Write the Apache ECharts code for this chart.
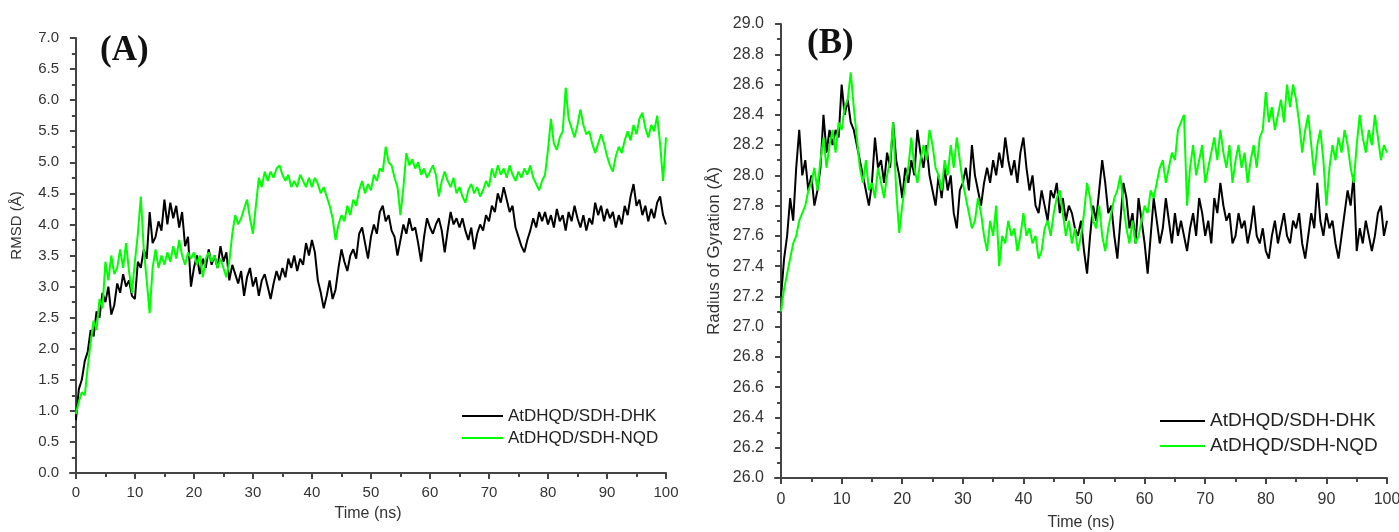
<!DOCTYPE html>
<html>
<head>
<meta charset="utf-8">
<script src="https://cdn.jsdelivr.net/npm/echarts@6/dist/echarts.min.js"></script>
<style>
  html, body { margin: 0; padding: 0; background: #fff; }
  #chart { width: 1399px; height: 532px; }
</style>
</head>
<body>
<div id="chart"></div>
<script>
// time axis: 0 .. 100 ns, sampled every 0.5 ns
const timeNs = Array.from({ length: 201 }, (_, i) => i * 0.5)

const xTicks = [0, 10, 20, 30, 40, 50, 60, 70, 80, 90, 100]
const xMinorTicks = [5, 15, 25, 35, 45, 55, 65, 75, 85, 95]

const seriesNames = ['AtDHQD/SDH-DHK', 'AtDHQD/SDH-NQD']

// (A) RMSD, Å
const rmsdDHK = [
  0.85, 1.35, 1.5, 1.8, 1.95, 2.3, 2.2, 2.6, 2.5, 2.9, 2.75, 3.0, 2.55, 2.7, 3.05, 2.9, 3.2, 3.0, 3.1, 2.85,
  2.8, 3.4, 3.3, 3.6, 3.45, 4.2, 3.7, 3.8, 4.05, 3.9, 4.4, 4.0, 4.35, 4.1, 4.3, 3.95, 4.2, 3.65, 3.8, 3.0,
  3.3, 3.5, 3.2, 3.45, 3.3, 3.6, 3.35, 3.5, 3.3, 3.65, 3.4, 3.55, 3.1, 3.35, 3.2, 3.05, 3.25, 2.85, 3.15, 3.3,
  3.0, 3.15, 2.85, 3.1, 3.2, 3.0, 2.8, 3.05, 3.25, 3.1, 3.3, 3.15, 3.45, 3.3, 3.5, 3.25, 3.45, 3.35, 3.7, 3.5,
  3.75, 3.55, 3.1, 2.9, 2.65, 2.85, 3.1, 2.8, 2.95, 3.3, 3.6, 3.4, 3.25, 3.5, 3.6, 3.45, 3.85, 3.95, 3.7, 3.45,
  3.8, 4.0, 3.85, 4.2, 4.3, 4.05, 4.15, 3.9, 3.8, 3.5, 3.75, 4.0, 3.85, 4.1, 3.9, 3.95, 3.7, 3.4, 3.8, 4.1,
  3.95, 3.85, 4.0, 4.1, 3.9, 3.55, 3.9, 4.2, 4.0, 4.1, 3.95, 4.1, 3.9, 3.75, 3.95, 3.6, 3.85, 4.0, 3.9, 4.15,
  4.05, 4.3, 4.2, 4.5, 4.35, 4.6, 4.4, 4.2, 4.3, 3.95, 3.8, 3.65, 3.55, 3.75, 3.9, 4.1, 3.95, 4.2, 4.05, 4.2,
  4.0, 4.15, 3.95, 4.25, 4.05, 4.15, 3.9, 4.2, 4.05, 4.3, 4.1, 3.95, 4.15, 3.9, 4.1, 4.0, 4.35, 4.15, 4.3, 4.05,
  4.25, 4.1, 4.2, 3.95, 4.15, 4.0, 4.3, 4.15, 4.45, 4.65, 4.3, 4.4, 4.15, 4.3, 4.05, 4.25, 4.1, 4.35, 4.45, 4.15,
  4.0
]
const rmsdNQD = [
  0.95, 1.15, 1.3, 1.25, 1.7, 2.1, 2.45, 2.3, 2.8, 2.65, 3.4, 3.1, 3.5, 3.2, 3.3, 3.6, 3.3, 3.7, 3.25, 2.9,
  3.4, 3.85, 4.45, 3.6, 3.1, 2.57, 3.3, 3.6, 3.3, 3.5, 3.35, 3.55, 3.4, 3.65, 3.45, 3.75, 3.5, 3.35, 3.55, 3.45,
  3.55, 3.35, 3.5, 3.15, 3.45, 3.55, 3.4, 3.5, 3.3, 3.45, 3.3, 3.15, 3.4, 3.85, 4.15, 4.0, 4.1, 4.25, 4.4, 4.1,
  3.85, 4.3, 4.75, 4.6, 4.85, 4.7, 4.85, 4.75, 4.9, 4.95, 4.8, 4.7, 4.8, 4.6, 4.7, 4.6, 4.8, 4.7, 4.6, 4.75,
  4.6, 4.75, 4.65, 4.5, 4.6, 4.45, 4.3, 4.1, 3.75, 4.0, 4.15, 4.05, 4.3, 4.15, 4.4, 4.3, 4.55, 4.7, 4.5, 4.65,
  4.55, 4.8, 4.7, 4.9, 4.85, 5.25, 5.0, 4.95, 4.75, 4.6, 4.15, 4.6, 5.15, 4.95, 5.05, 4.9, 5.0, 4.8, 4.9, 4.75,
  4.85, 4.95, 4.8, 4.45, 4.7, 4.85, 4.7, 4.6, 4.75, 4.5, 4.6, 4.45, 4.35, 4.55, 4.65, 4.5, 4.6, 4.45, 4.55, 4.7,
  4.6, 4.9, 4.75, 4.95, 4.8, 4.9, 4.75, 4.95, 4.8, 4.7, 4.85, 4.75, 4.9, 4.8, 4.95, 4.75, 4.65, 4.55, 4.7, 4.8,
  5.2, 5.7, 5.3, 5.2, 5.4, 5.5, 6.2, 5.7, 5.55, 5.4, 5.6, 5.85, 5.6, 5.45, 5.5, 5.3, 5.15, 5.3, 5.45, 5.3,
  5.1, 4.95, 4.85, 5.1, 5.25, 5.15, 5.35, 5.5, 5.35, 5.6, 5.45, 5.7, 5.8, 5.55, 5.4, 5.6, 5.5, 5.75, 5.3, 4.7,
  5.4
]

// (B) Radius of gyration, Å
const rgDHK = [
  27.2, 27.45, 27.6, 27.85, 27.7, 28.05, 28.3, 28.0, 28.1, 27.9, 28.0, 27.8, 27.9, 28.05, 28.4, 28.15, 28.3, 28.2, 28.3, 28.25,
  28.6, 28.4, 28.5, 28.35, 28.3, 28.2, 28.1, 28.0, 27.9, 27.8, 27.95, 28.25, 28.05, 28.1, 27.95, 28.15, 28.05, 28.35, 28.1, 28.0,
  27.85, 28.05, 27.95, 28.1, 28.0, 28.3, 28.15, 28.05, 28.2, 28.0, 27.9, 27.8, 28.0, 27.85, 28.05, 27.9, 28.0, 27.75, 27.65, 27.9,
  27.95, 28.05, 27.9, 28.2, 28.0, 27.9, 27.8, 27.95, 28.05, 27.95, 28.1, 28.0, 28.15, 28.05, 28.25, 28.1, 28.0, 28.1, 27.95, 28.15,
  28.25, 28.05, 27.9, 28.0, 27.8, 27.75, 27.9, 27.8, 27.7, 27.9, 27.85, 27.95, 27.75, 27.85, 27.7, 27.8, 27.75, 27.65, 27.6, 27.7,
  27.5, 27.35, 27.6, 27.8, 27.7, 27.9, 28.1, 27.95, 27.75, 27.8, 27.6, 27.45, 27.7, 27.95, 27.85, 27.65, 27.75, 27.55, 27.85, 27.7,
  27.55, 27.35, 27.6, 27.85, 27.7, 27.55, 27.65, 27.85, 27.7, 27.55, 27.75, 27.6, 27.7, 27.6, 27.5, 27.65, 27.75, 27.6, 27.85, 27.75,
  27.6, 27.7, 27.55, 27.85, 27.75, 27.95, 27.8, 27.7, 27.75, 27.55, 27.6, 27.75, 27.65, 27.7, 27.55, 27.65, 27.8, 27.6, 27.55, 27.65,
  27.5, 27.45, 27.6, 27.7, 27.55, 27.65, 27.75, 27.6, 27.55, 27.7, 27.65, 27.75, 27.55, 27.45, 27.6, 27.75, 27.65, 27.95, 27.7, 27.6,
  27.75, 27.65, 27.7, 27.55, 27.45, 27.6, 27.75, 27.9, 27.8, 28.0, 27.5, 27.65, 27.55, 27.7, 27.6, 27.5, 27.6, 27.75, 27.8, 27.6,
  27.7
]
const rgNQD = [
  27.1, 27.25, 27.35, 27.45, 27.55, 27.6, 27.7, 27.75, 27.8, 27.9, 27.95, 28.05, 27.9, 28.1, 28.25, 28.05, 28.2, 28.3, 28.15, 28.35,
  28.3, 28.45, 28.5, 28.68, 28.45, 28.25, 28.05, 27.95, 28.1, 27.9, 27.95, 27.85, 28.05, 27.95, 27.85, 28.0, 28.1, 28.35, 27.9, 27.62,
  27.8, 27.95, 28.05, 28.25, 28.05, 27.95, 28.1, 28.2, 28.1, 28.3, 28.2, 28.05, 28.0, 27.9, 28.1, 28.0, 28.2, 28.05, 28.25, 28.1,
  27.95, 27.85, 27.75, 27.65, 27.7, 27.85, 27.75, 27.6, 27.5, 27.7, 27.6, 27.8, 27.4, 27.6, 27.55, 27.7, 27.6, 27.65, 27.5, 27.6,
  27.75, 27.6, 27.65, 27.55, 27.6, 27.45, 27.5, 27.65, 27.7, 27.6, 27.75, 27.85, 27.9, 27.75, 27.6, 27.7, 27.55, 27.65, 27.5, 27.6,
  27.75, 27.95, 27.85, 27.7, 27.65, 27.8, 27.6, 27.5, 27.65, 27.75, 27.85, 27.9, 28.0, 27.8, 27.65, 27.55, 27.7, 27.55, 27.6, 27.7,
  27.8, 27.75, 27.9, 27.85, 27.95, 28.05, 28.1, 27.95, 28.05, 28.15, 28.1, 28.3, 28.35, 28.4, 27.8, 28.05, 28.2, 28.0, 28.1, 28.2,
  27.95, 28.05, 28.15, 28.25, 28.1, 28.3, 28.15, 28.05, 28.2, 27.95, 28.1, 28.2, 28.05, 28.15, 27.95, 28.1, 28.2, 28.05, 28.25, 28.3,
  28.55, 28.35, 28.45, 28.3, 28.4, 28.5, 28.35, 28.6, 28.45, 28.6, 28.5, 28.35, 28.15, 28.3, 28.4, 28.2, 28.0, 28.2, 28.3, 28.1,
  27.8, 28.05, 28.2, 28.1, 28.25, 28.15, 28.3, 28.2, 28.05, 27.95, 28.2, 28.4, 28.25, 28.15, 28.3, 28.2, 28.4, 28.25, 28.1, 28.2,
  28.15
]

const pair = (vals) => timeNs.map((t, i) => [t, vals[i]])

const axisColor = '#444'
const labelColor = '#333'
const font = 'Liberation Sans, Arial, sans-serif'

function mainX(gridIndex, margin, nameGap, size) {
  return {
    type: 'value', gridIndex, min: -1, max: 100,
    name: 'Time (ns)', nameLocation: 'middle', nameGap,
    nameTextStyle: { fontFamily: font, fontSize: 16, color: labelColor },
    axisLine: { lineStyle: { color: axisColor, width: 2 } },
    axisTick: { customValues: xTicks, length: 6, inside: false, lineStyle: { color: axisColor, width: 2 } },
    axisLabel: { customValues: xTicks, margin, fontFamily: font, fontSize: size, color: labelColor },
    splitLine: { show: false },
  }
}
function minorX(gridIndex) {
  return {
    type: 'value', gridIndex, min: -1, max: 100, position: 'bottom',
    axisLine: { show: false },
    axisTick: { customValues: xMinorTicks, length: 4, lineStyle: { color: axisColor, width: 2 } },
    axisLabel: { show: false },
    splitLine: { show: false },
  }
}

const chart = echarts.init(document.getElementById('chart'))
chart.setOption({
  backgroundColor: '#fff',
  animation: false,
  grid: [
    { left: 70, top: 38, width: 596, height: 435, outerBoundsMode: 'none' },
    { left: 775, top: 24, width: 612, height: 454, outerBoundsMode: 'none' },
  ],
  xAxis: [mainX(0, 12, 33, 15), minorX(0), mainX(1, 14, 37, 16), minorX(1)],
  yAxis: [
    {
      type: 'value', gridIndex: 0, min: 0, max: 7, interval: 0.5,
      name: 'RMSD (Å)', nameLocation: 'middle', nameGap: 46,
      nameTextStyle: { fontFamily: font, fontSize: 15, color: labelColor, padding: [0, 0, 0, 60] },
      axisLine: { show: true, lineStyle: { color: axisColor, width: 2 } },
      axisTick: { show: true, length: 6, lineStyle: { color: axisColor, width: 2 } },
      minorTick: { show: true, splitNumber: 2, length: 4, lineStyle: { color: axisColor, width: 2 } },
      axisLabel: { margin: 11, fontFamily: font, fontSize: 15, color: labelColor, formatter: (v) => v.toFixed(1) },
      splitLine: { show: false },
    },
    {
      type: 'value', gridIndex: 1, min: 26, max: 29, interval: 0.2,
      name: 'Radius of Gyration (Å)', nameLocation: 'middle', nameGap: 52,
      nameTextStyle: { fontFamily: font, fontSize: 17, color: labelColor },
      axisLine: { show: true, lineStyle: { color: axisColor, width: 2 } },
      axisTick: { show: true, length: 6, lineStyle: { color: axisColor, width: 2 } },
      minorTick: { show: true, splitNumber: 2, length: 4, lineStyle: { color: axisColor, width: 2 } },
      axisLabel: { margin: 11, fontFamily: font, fontSize: 16, color: labelColor, formatter: (v) => v.toFixed(1) },
      splitLine: { show: false },
    },
  ],
  legend: [
    {
      orient: 'vertical', left: 457, top: 402, itemWidth: 41, itemHeight: 2, itemGap: 4, icon: 'rect',
      data: seriesNames,
      textStyle: { fontFamily: font, fontSize: 17, color: '#222', lineHeight: 18 },
    },
    {
      orient: 'vertical', left: 1155, top: 406, itemWidth: 45, itemHeight: 2, itemGap: 5, icon: 'rect',
      data: seriesNames,
      textStyle: { fontFamily: font, fontSize: 19, color: '#222', lineHeight: 20 },
    },
  ],
  title: [
    { text: '(A)', left: 95, top: 28, textStyle: { fontFamily: 'Liberation Serif, Times New Roman, serif', fontWeight: 'bold', fontSize: 35, color: '#111' } },
    { text: '(B)', left: 802, top: 21, textStyle: { fontFamily: 'Liberation Serif, Times New Roman, serif', fontWeight: 'bold', fontSize: 35, color: '#111' } },
  ],
  series: [
    { name: seriesNames[0], type: 'line', xAxisIndex: 0, yAxisIndex: 0, data: pair(rmsdDHK), showSymbol: false, symbol: 'none', color: '#000', lineStyle: { width: 2 } },
    { name: seriesNames[1], type: 'line', xAxisIndex: 0, yAxisIndex: 0, data: pair(rmsdNQD), showSymbol: false, symbol: 'none', color: '#00ff00', lineStyle: { width: 2 } },
    { name: seriesNames[0], type: 'line', xAxisIndex: 2, yAxisIndex: 1, data: pair(rgDHK), showSymbol: false, symbol: 'none', color: '#000', lineStyle: { width: 2 } },
    { name: seriesNames[1], type: 'line', xAxisIndex: 2, yAxisIndex: 1, data: pair(rgNQD), showSymbol: false, symbol: 'none', color: '#00ff00', lineStyle: { width: 2 } },
  ],
})
</script>
</body>
</html>
